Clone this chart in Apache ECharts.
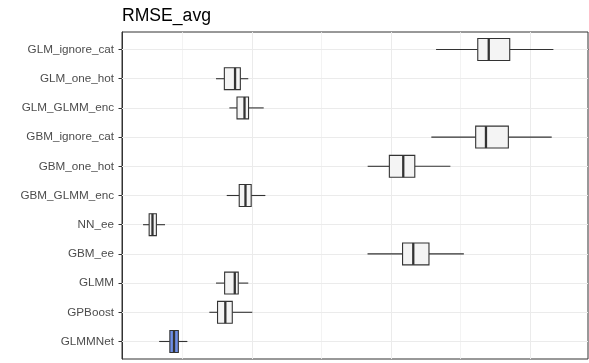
<!DOCTYPE html>
<html>
<head>
<meta charset="utf-8">
<script src="https://cdn.jsdelivr.net/npm/echarts@6/dist/echarts.min.js"></script>
<style>html,body{margin:0;padding:0;background:#fff}#c{width:589px;height:363px}</style>
</head>
<body>
<div id="c"></div>
<script>
const categories = ["GLM_ignore_cat","GLM_one_hot","GLM_GLMM_enc","GBM_ignore_cat","GBM_one_hot","GBM_GLMM_enc","NN_ee","GBM_ee","GLMM","GPBoost","GLMMNet"];
const whiskerLow  = [2.324, 0.741, 0.837, 2.290, 1.832, 0.818, 0.216, 1.831, 0.741, 0.693, 0.332];
const q1Values    = [2.624, 0.801, 0.892, 2.609, 1.988, 0.908, 0.260, 2.083, 0.803, 0.752, 0.409];
const medians     = [2.703, 0.878, 0.946, 2.683, 2.088, 0.953, 0.284, 2.160, 0.876, 0.808, 0.439];
const q3Values    = [2.854, 0.916, 0.975, 2.844, 2.171, 0.994, 0.312, 2.273, 0.901, 0.858, 0.470];
const whiskerHigh = [3.168, 0.973, 1.084, 3.156, 2.427, 1.096, 0.374, 2.524, 0.973, 1.002, 0.535];
const xMajorTicks = [1, 2, 3];
const xMinorTicks = [0.5, 1.5, 2.5];
const highlighted = ["GLMMNet"];

const yIdx = categories.map((c, i) => i);
const boxData = categories.map((c, i) => [i, whiskerLow[i], q1Values[i], medians[i], q3Values[i], whiskerHigh[i]]);

const chart = echarts.init(document.getElementById('c'), null, {renderer: 'canvas'});
const FONT = '"Liberation Sans", Arial, sans-serif';
const STROKE = '#333333';

chart.setOption({
  animation: false,
  backgroundColor: '#ffffff',
  title: {
    text: 'RMSE_avg', left: 122, top: 7, padding: 0,
    textStyle: {fontFamily: FONT, fontSize: 17.6, fontWeight: 'normal', color: '#000000'}
  },
  grid: {left: 122, right: 1, top: 32, bottom: 4, show: true, borderColor: STROKE, borderWidth: 1, backgroundColor: '#ffffff'},
  xAxis: {
    type: 'value', min: 0.0647, max: 3.417,
    axisLine: {show: true, lineStyle: {color: STROKE, width: 1}},
    splitLine: {show: false},
    axisTick: {show: true, customValues: xMajorTicks, length: 3.5, lineStyle: {color: STROKE, width: 1}},
    axisLabel: {show: false}
  },
  yAxis: {
    type: 'value', min: -0.6, max: 10.6, inverse: true,
    axisLine: {show: true, lineStyle: {color: STROKE, width: 1}},
    splitLine: {show: false},
    axisTick: {show: true, customValues: yIdx, length: 3.5, lineStyle: {color: STROKE, width: 1}},
    axisLabel: {
      show: true, customValues: yIdx, margin: 8,
      formatter: v => categories[Math.round(v)] || '',
      fontFamily: FONT, fontSize: 11.7, color: '#4d4d4d'
    }
  },
  series: [
    {
      type: 'line', data: [], z: 1, silent: true,
      markLine: {
        silent: true, symbol: 'none', animation: false, z: 1,
        label: {show: false},
        lineStyle: {color: '#ebebeb', width: 1, type: 'solid'},
        emphasis: {disabled: true},
        data: [
          ...xMinorTicks.map(v => ({xAxis: v, lineStyle: {color: '#f0f0f0', width: 0.8, type: 'solid'}})),
          ...xMajorTicks.map(v => ({xAxis: v})),
          ...yIdx.map(v => ({yAxis: v}))
        ]
      }
    },
    {
      type: 'custom', z: 3, silent: true,
      data: boxData,
      encode: {x: [1, 2, 3, 4, 5], y: 0},
      renderItem: function (params, api) {
        const y = api.value(0);
        const lo = api.coord([api.value(1), y]);
        const a = api.coord([api.value(2), y]);
        const m = api.coord([api.value(3), y]);
        const b = api.coord([api.value(4), y]);
        const hi = api.coord([api.value(5), y]);
        const h = api.size([0, 0.75])[1];
        const cy = lo[1];
        const fill = highlighted.indexOf(categories[params.dataIndex]) >= 0 ? '#6f8fe8' : '#f4f4f4';
        return {
          type: 'group',
          children: [
            {type: 'line', shape: {x1: lo[0], y1: cy, x2: a[0], y2: cy}, style: {stroke: STROKE, lineWidth: 1.1}},
            {type: 'line', shape: {x1: b[0], y1: cy, x2: hi[0], y2: cy}, style: {stroke: STROKE, lineWidth: 1.1}},
            {type: 'rect', shape: {x: a[0], y: cy - h / 2, width: b[0] - a[0], height: h}, style: {fill: fill, stroke: STROKE, lineWidth: 1.1}},
            {type: 'line', shape: {x1: m[0], y1: cy - h / 2, x2: m[0], y2: cy + h / 2}, style: {stroke: STROKE, lineWidth: 2.3}}
          ]
        };
      }
    }
  ]
});
</script>
</body>
</html>
